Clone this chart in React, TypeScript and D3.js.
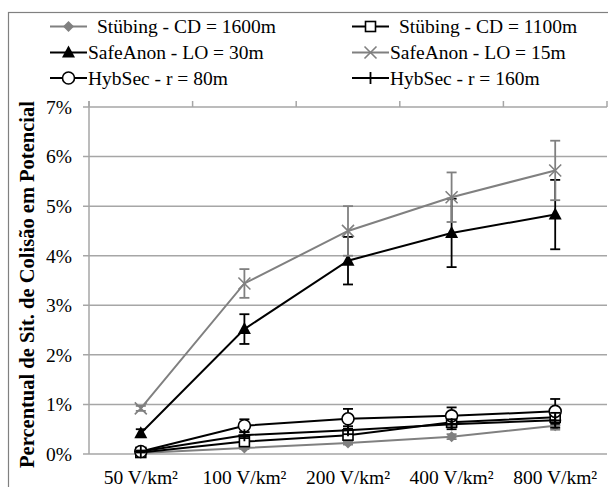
import React from 'react';
import * as d3 from 'd3';

// categories and tick labels
const categories = ['50 V/km²', '100 V/km²', '200 V/km²', '400 V/km²', '800 V/km²'];
const yTicks = [0, 0.01, 0.02, 0.03, 0.04, 0.05, 0.06, 0.07];

// series values (fraction) and error bar half-widths
const stubing1600 = [0.0002, 0.0012, 0.0022, 0.0035, 0.0057];
const stubing1600Err = [0.0001, 0.0002, 0.0003, 0.0005, 0.0008];
const stubing1100 = [0.0003, 0.0025, 0.0038, 0.0064, 0.0074];
const stubing1100Err = [0.0001, 0.0005, 0.0008, 0.0008, 0.0008];
const safe30 = [0.0042, 0.0252, 0.039, 0.0446, 0.0483];
const safe30Err = [0.0008, 0.003, 0.0048, 0.0069, 0.007];
const safe15 = [0.0092, 0.0344, 0.045, 0.0518, 0.0572];
const safe15Err = [0.0005, 0.0029, 0.005, 0.005, 0.006];
const hyb80 = [0.0005, 0.0057, 0.0071, 0.0077, 0.0086];
const hyb80Err = [0.0002, 0.0013, 0.002, 0.0017, 0.0025];
const hyb160 = [0.0005, 0.0038, 0.0048, 0.006, 0.0068];
const hyb160Err = [0.0002, 0.0006, 0.0008, 0.001, 0.0015];

const GRAY = '#808080';
const GRID = '#a6a6a6';
const FONT = '"Liberation Serif", "Times New Roman", serif';

type Series = { name: string; values: number[]; err: number[]; color: string; marker: string };

const series: Series[] = [
  { name: 'Stübing - CD = 1600m', values: stubing1600, err: stubing1600Err, color: GRAY, marker: 'diamond' },
  { name: 'Stübing - CD = 1100m', values: stubing1100, err: stubing1100Err, color: '#000', marker: 'square' },
  { name: 'SafeAnon - LO = 30m', values: safe30, err: safe30Err, color: '#000', marker: 'triangle' },
  { name: 'SafeAnon - LO = 15m', values: safe15, err: safe15Err, color: GRAY, marker: 'x' },
  { name: 'HybSec - r = 80m', values: hyb80, err: hyb80Err, color: '#000', marker: 'circle' },
  { name: 'HybSec - r = 160m', values: hyb160, err: hyb160Err, color: '#000', marker: 'plus' },
];

function Marker({ type, x, y, color }: { type: string; x: number; y: number; color: string }) {
  switch (type) {
    case 'diamond':
      return <path d={`M${x},${y - 5.5}L${x + 5.5},${y}L${x},${y + 5.5}L${x - 5.5},${y}Z`} fill={color} />;
    case 'square':
      return <rect x={x - 5} y={y - 5} width={10} height={10} fill="#fff" stroke={color} strokeWidth={1.6} />;
    case 'triangle':
      return <path d={`M${x},${y - 7}L${x + 6.5},${y + 5}L${x - 6.5},${y + 5}Z`} fill={color} />;
    case 'x':
      return <path d={`M${x - 6},${y - 6}L${x + 6},${y + 6}M${x + 6},${y - 6}L${x - 6},${y + 6}`} stroke={color} strokeWidth={1.6} />;
    case 'circle':
      return <circle cx={x} cy={y} r={6} fill="#fff" stroke={color} strokeWidth={1.6} />;
    case 'plus':
      return <path d={`M${x - 6},${y}L${x + 6},${y}M${x},${y - 6}L${x},${y + 6}`} stroke={color} strokeWidth={1.8} />;
    default:
      return null;
  }
}

export default function App() {
  const width = 608;
  const height = 487;
  const margin = { left: 89, right: 607, top: 107, bottom: 454 };

  const x = d3.scaleBand().domain(categories).range([margin.left, margin.right]).padding(0);
  const y = d3.scaleLinear().domain([0, 0.07]).range([margin.bottom, margin.top]);
  const cx = (c: string) => (x(c) as number) + x.bandwidth() / 2;

  const line = d3.line<number>()
    .x((_, i) => cx(categories[i]))
    .y(d => y(d));

  const boundaries = categories.map(c => x(c) as number).concat([margin.right]);

  // legend layout: two columns, three rows
  const legendCols = [50, 352];
  const legendRows = [26.5, 52.5, 78];

  return (
    <div style={{ position: 'absolute', left: 0, top: 0 }}>
      <svg width={width} height={height} style={{ display: 'block', fontFamily: FONT }}>
        <rect x={0} y={0} width={width} height={height} fill="#fff" />
        <rect x={8.5} y={12.5} width={640} height={520} fill="none" stroke={GRAY} strokeWidth={1.2} />

        {/* gridlines and y ticks */}
        {yTicks.map(t => (
          <g key={t}>
            <line x1={margin.left - 6} x2={margin.right} y1={y(t)} y2={y(t)} stroke={GRID} strokeWidth={1.5} />
            <text x={72} y={y(t)} dy="0.35em" textAnchor="end" fontSize={19.5}>{`${Math.round(t * 100)}%`}</text>
          </g>
        ))}
        {/* y axis line */}
        <line x1={margin.left} x2={margin.left} y1={margin.top - 6} y2={margin.bottom} stroke={GRID} strokeWidth={1.5} />
        {/* category ticks along the top */}
        {boundaries.map((b, i) => (
          <line key={i} x1={b} x2={b} y1={margin.top - 6} y2={margin.top} stroke={GRID} strokeWidth={1.5} />
        ))}

        {/* x labels */}
        {categories.map(c => (
          <text key={c} x={cx(c)} y={484} textAnchor="middle" fontSize={19.5}>{c}</text>
        ))}

        {/* y title */}
        <text transform={`translate(27,${(margin.top + margin.bottom) / 2 + 4}) rotate(-90)`} textAnchor="middle"
          dy="0.35em" fontSize={20.5} fontWeight="bold">Percentual de Sit. de Colisão em Potencial</text>

        {/* series */}
        {series.map(s => (
          <g key={s.name}>
            <path d={line(s.values) || ''} fill="none" stroke={s.color} strokeWidth={2} />
            {s.values.map((v, i) => {
              const px = cx(categories[i]);
              const e = s.err[i];
              return (
                <g key={i} stroke={s.color} strokeWidth={1.8}>
                  <line x1={px} x2={px} y1={y(v + e)} y2={y(Math.max(0, v - e))} />
                  <line x1={px - 5} x2={px + 5} y1={y(v + e)} y2={y(v + e)} />
                  <line x1={px - 5} x2={px + 5} y1={y(Math.max(0, v - e))} y2={y(Math.max(0, v - e))} />
                </g>
              );
            })}
            {s.values.map((v, i) => (
              <Marker key={i} type={s.marker} x={cx(categories[i])} y={y(v)} color={s.color} />
            ))}
          </g>
        ))}

        {/* legend */}
        {series.map((s, i) => {
          const col = i % 2;
          const row = Math.floor(i / 2);
          const lx = legendCols[col];
          const ly = legendRows[row];
          const tx = lx + 38 + (row === 0 ? 9 : 0);
          return (
            <g key={s.name}>
              <line x1={lx} x2={lx + 37} y1={ly} y2={ly} stroke={s.color} strokeWidth={2} />
              <Marker type={s.marker} x={lx + 18.5} y={ly} color={s.color} />
              <text x={tx} y={ly} dy="0.35em" fontSize={19.5}>{s.name}</text>
            </g>
          );
        })}
      </svg>
    </div>
  );
}
